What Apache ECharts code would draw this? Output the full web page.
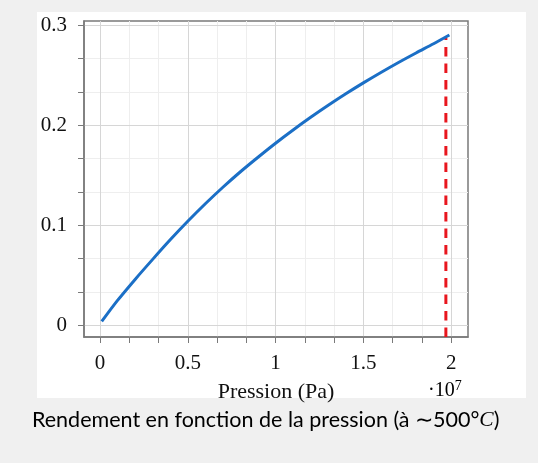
<!DOCTYPE html>
<html>
<head>
<meta charset="utf-8">
<script src="https://cdn.jsdelivr.net/npm/echarts@6/dist/echarts.min.js"></script>
<style>
html, body { margin: 0; padding: 0; background: #f0f0f0; }
#main { width: 538px; height: 463px; }
</style>
</head>
<body>
<div id="main"></div>
<script>
// pression en unités de 1e7 Pa, rendement
var pression = [0.01, 0.1, 0.2, 0.3, 0.4, 0.5, 0.6, 0.7, 0.8, 0.9, 1.0,
    1.1, 1.2, 1.3, 1.4, 1.5, 1.6, 1.7, 1.8, 1.9, 1.99];
var rendement = [0.004, 0.025, 0.046, 0.066, 0.0855, 0.104, 0.1215, 0.138, 0.1535, 0.168, 0.182,
    0.1952, 0.2078, 0.2198, 0.2313, 0.2422, 0.2526, 0.2626, 0.2721, 0.2813, 0.290];

var xMajor = [0, 0.5, 1, 1.5, 2];
var xMinor = [0.1667, 0.3333, 0.6667, 0.8333, 1.1667, 1.3333, 1.6667, 1.8333];
var yMajor = [0, 0.1, 0.2, 0.3];
var yMinor = [0.0333, 0.0667, 0.1333, 0.1667, 0.2333, 0.2667];

// limite (trait rouge)
var cutoffX = 1.97;
var cutoffTop = 0.287;

var xMin = -0.091, xMax = 2.096;
var yMin = -0.0115, yMax = 0.304;

var chart = echarts.init(document.getElementById('main'));

var tickFont = { fontFamily: 'Liberation Serif', fontSize: 21, color: '#111111' };

function axisPair(dim) {
    var major = dim === 'x' ? xMajor : yMajor;
    var minor = dim === 'x' ? xMinor : yMinor;
    var base = {
        type: 'value',
        min: dim === 'x' ? xMin : yMin,
        max: dim === 'x' ? xMax : yMax,
        position: dim === 'x' ? 'bottom' : 'left'
    };
    var main = Object.assign({}, base, {
        axisLine: { show: true, onZero: false, lineStyle: { color: '#7a7a7a', width: 1.5 } },
        axisTick: { show: true, customValues: major, length: 6, lineStyle: { color: '#7a7a7a', width: 1 } },
        axisLabel: Object.assign({
            customValues: major,
            margin: dim === 'x' ? 16 : 17,
            formatter: function (v) { return String(v); }
        }, tickFont),
        splitLine: { show: true, lineStyle: { color: '#d6d6d6', width: 1 } },
        z: 3
    });
    var sub = Object.assign({}, base, {
        axisLine: { show: false, onZero: false },
        axisTick: { show: true, customValues: minor, length: 6, lineStyle: { color: '#7a7a7a', width: 1 } },
        axisLabel: { show: false, customValues: minor },
        splitLine: { show: true, lineStyle: { color: '#eeeeee', width: 1 } },
        z: 1
    });
    return [main, sub];
}

var xAxes = axisPair('x');
xAxes[0].name = 'Pression (Pa)';
xAxes[0].nameLocation = 'middle';
xAxes[0].nameGap = 44;
xAxes[0].nameTextStyle = { fontFamily: 'Liberation Serif', fontSize: 22, color: '#111111' };

chart.setOption({
    animation: false,
    backgroundColor: '#f0f0f0',
    graphic: [
        {
            type: 'rect', z: -10, silent: true,
            shape: { x: 37, y: 12, width: 489, height: 386 },
            style: { fill: '#ffffff' }
        },
        {
            type: 'text', left: 428, top: 379, z: 10,
            style: {
                text: '{a|·10}{s|7}',
                rich: {
                    a: { fontFamily: 'Liberation Serif', fontSize: 20, color: '#111111', lineHeight: 23 },
                    s: { fontFamily: 'Liberation Serif', fontSize: 14, color: '#111111', verticalAlign: 'top', lineHeight: 23 }
                }
            }
        },
        {
            type: 'text', left: 32, top: 409, z: 10,
            style: {
                text: '{a|Rendement en fonction de la pression (à ∼500°}{c|C}{a|)}',
                rich: {
                    a: { fontFamily: 'Lato', fontSize: 21.5, color: '#111111', lineHeight: 28 },
                    c: { fontFamily: 'Liberation Serif', fontStyle: 'italic', fontSize: 21.5, color: '#111111', lineHeight: 28 }
                }
            }
        }
    ],
    grid: {
        left: 84, top: 21, right: 70, bottom: 126,
        containLabel: false,
        show: true,
        backgroundColor: '#ffffff',
        borderColor: '#7a7a7a',
        borderWidth: 1.5
    },
    xAxis: xAxes,
    yAxis: axisPair('y'),
    series: [
        {
            type: 'line',
            name: 'limite',
            data: [[cutoffX, yMin], [cutoffX, cutoffTop]],
            symbol: 'none',
            lineStyle: { color: '#e8161e', width: 3, type: [9.5, 7] },
            z: 4
        },
        {
            type: 'line',
            name: 'rendement',
            data: pression.map(function (p, i) { return [p, rendement[i]]; }),
            symbol: 'none',
            smooth: 0.3,
            lineStyle: { color: '#1b6fc6', width: 3 },
            z: 5
        }
    ]
});
</script>
</body>
</html>
